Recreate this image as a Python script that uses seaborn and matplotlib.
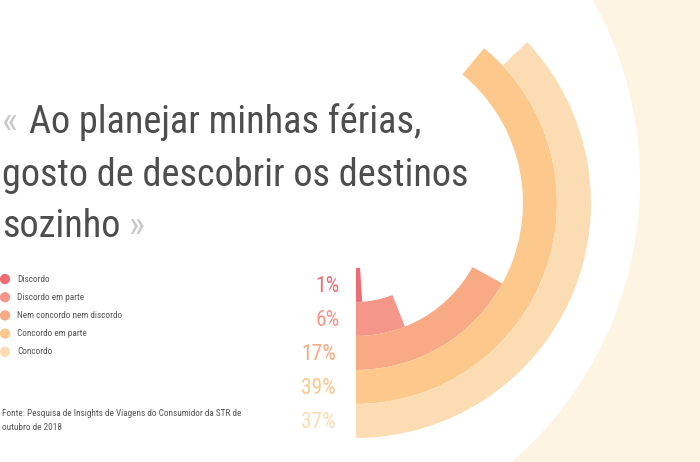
import numpy as np
import pandas as pd
import matplotlib
matplotlib.use("Agg")
import matplotlib.pyplot as plt
import seaborn as sns
from matplotlib import font_manager as fm
from matplotlib.patches import Circle, Rectangle
from matplotlib.transforms import IdentityTransform

# ---------------- data ----------------
categories = ["Discordo", "Discordo em parte", "Nem concordo nem discordo",
              "Concordo em parte", "Concordo"]
values = [1, 6, 17, 39, 37]
value_labels = ["1%", "6%", "17%", "39%", "37%"]
colors = ["#EE6C74", "#F4968A", "#F7AA84", "#FCC88B", "#FCDCB3"]
title_lines = ["Ao planejar minhas férias,", "gosto de descobrir os destinos", "sozinho"]
source_lines = ["Fonte: Pesquisa de Insights de Viagens do Consumidor da STR de",
                "outubro de 2018"]

# ---------------- style ----------------
W, H = 700, 462
sns.set_theme(style="white")
names = {f.name for f in fm.fontManager.ttflist}
FONT, STRETCH = "DejaVu Sans", "condensed"
for cand in ["Roboto Condensed", "Liberation Sans Narrow", "Open Sans Condensed"]:
    if cand in names:
        FONT, STRETCH = cand, "normal"
        break
plt.rcParams["font.family"] = [FONT, "DejaVu Sans"]

fig = plt.figure(figsize=(W / 100, H / 100), dpi=100)
fig.patch.set_facecolor("#FDF5E1")
fig.add_artist(Rectangle((0, 0), 268, H, transform=IdentityTransform(),
                         facecolor="white", edgecolor="none", zorder=-10))
fig.add_artist(Circle((268, H - 181), 372, transform=IdentityTransform(),
                      facecolor="white", edgecolor="none", zorder=-10))

# ---------------- radial bars ----------------
cx, cy = 356, 203        # centre in pixels from top-left
unit = 34                # ring width in pixels
hole = 1.91              # inner hole in ring units
rmax = 7
Rpx = rmax * unit
ax = fig.add_axes([(cx - Rpx) / W, (H - cy - Rpx) / H, 2 * Rpx / W, 2 * Rpx / H],
                  projection="polar")
ax.set_facecolor("none")
ax.set_theta_zero_location("S")
ax.set_theta_direction(1)
theta = np.array(values) / 100 * 2 * np.pi
ax.bar(0, 1, width=theta, bottom=hole + np.arange(len(values)), align="edge",
       color=colors, linewidth=0)
ax.set_ylim(0, rmax)
ax.axis("off")

# ---------------- overlay for text & legend ----------------
ov = fig.add_axes([0, 0, 1, 1])
ov.set_facecolor("none")
leg_df = pd.DataFrame({"cat": categories, "x": 5.0,
                       "y": 279 + 18.2 * np.arange(len(categories))})
sns.scatterplot(data=leg_df, x="x", y="y", hue="cat", palette=colors, s=55,
                linewidth=0, legend=False, ax=ov)
for i, c in enumerate(categories):
    ov.text(17, 279 + 18.2 * i, c, fontsize=6.7, color="#555555",
            va="center", ha="left", fontstretch=STRETCH)
ov.set_xlim(0, W)
ov.set_ylim(H, 0)
ov.axis("off")

# title fitted to width
renderer = fig.canvas.get_renderer()
probe = ov.text(0, 0, title_lines[1], fontsize=30, fontstretch=STRETCH)
wpx = probe.get_window_extent(renderer).width
probe.remove()
tsize = 30 * 466 / wpx
tcol = "#4D4D4D"
gcol = "#C9C9C9"
ov.text(1, 133, "«", fontsize=tsize, color=gcol, va="baseline", fontstretch=STRETCH)
ov.text(29, 133, title_lines[0], fontsize=tsize, color=tcol, va="baseline", fontstretch=STRETCH)
ov.text(2, 186, title_lines[1], fontsize=tsize, color=tcol, va="baseline", fontstretch=STRETCH)
t3 = ov.text(2, 237, title_lines[2], fontsize=tsize, color=tcol, va="baseline", fontstretch=STRETCH)
w3 = t3.get_window_extent(renderer).width
ov.text(2 + w3 + 8, 237, "»", fontsize=tsize, color=gcol, va="baseline", fontstretch=STRETCH)

# value labels
label_y = cy + (hole + np.arange(len(values)) + 0.5) * unit
label_x = [340, 340, 336, 336, 336]
for lx, ly, lab, col in zip(label_x, label_y, value_labels, colors):
    ov.text(lx, ly + 2, lab, fontsize=15.5, color=col, ha="right", va="center",
            fontstretch=STRETCH)

# source
for i, s in enumerate(source_lines):
    ov.text(2, 413 + 14.5 * i, s, fontsize=6.7, color="#555555", va="center",
            ha="left", fontstretch=STRETCH)

fig.savefig("out.png", dpi=100, facecolor=fig.get_facecolor())
